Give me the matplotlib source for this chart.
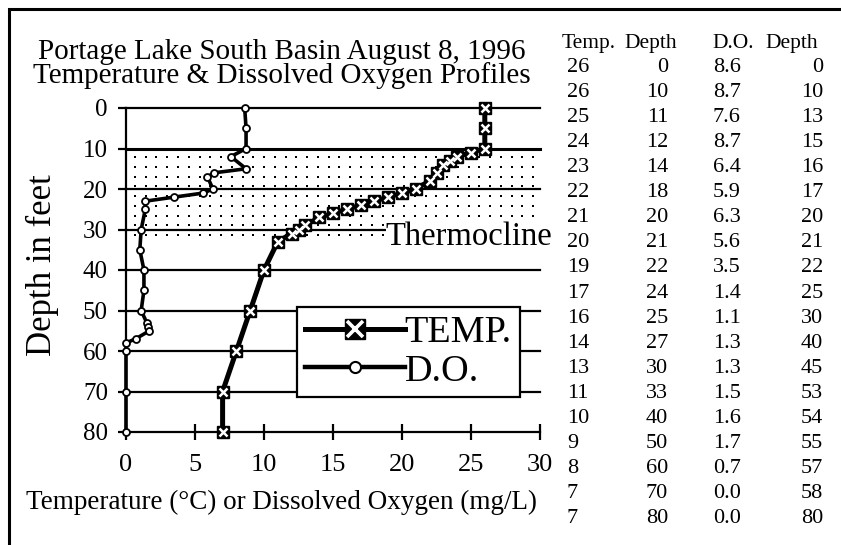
import numpy as np
import matplotlib
matplotlib.use("Agg")
import matplotlib.pyplot as plt
from matplotlib.lines import Line2D

plt.rcParams['font.family'] = ['Liberation Serif', 'DejaVu Serif']

# ---- data: plotted profiles ----
temp_depth = [0, 5, 10, 11, 12, 13, 14, 16, 18, 20, 21, 22, 23, 24, 25, 26, 27, 29, 30, 31, 33, 40, 50, 60, 70, 80]
temp_vals = [26, 26, 26, 25, 24, 23.5, 23, 22.5, 22, 21, 20, 19, 18, 17, 16, 15, 14, 13, 12.5, 12, 11, 10, 9, 8, 7, 7]
do_depth = [0, 5, 10, 12, 15, 16, 17, 20, 21, 22, 23, 25, 30, 35, 40, 45, 50, 53, 54, 55, 57, 58, 60, 70, 80]
do_vals = [8.6, 8.7, 8.7, 7.6, 8.7, 6.4, 5.9, 6.3, 5.6, 3.5, 1.4, 1.4, 1.1, 1.0, 1.3, 1.3, 1.1, 1.5, 1.6, 1.7, 0.7, 0.0, 0.0, 0.0, 0.0]

# ---- data: table on the right ----
tab_temp = [26, 26, 25, 24, 23, 22, 21, 20, 19, 17, 16, 14, 13, 11, 10, 9, 8, 7, 7]
tab_temp_depth = [0, 10, 11, 12, 14, 18, 20, 21, 22, 24, 25, 27, 30, 33, 40, 50, 60, 70, 80]
tab_do = [8.6, 8.7, 7.6, 8.7, 6.4, 5.9, 6.3, 5.6, 3.5, 1.4, 1.1, 1.3, 1.3, 1.5, 1.6, 1.7, 0.7, 0.0, 0.0]
tab_do_depth = [0, 10, 13, 15, 16, 17, 20, 21, 22, 25, 30, 40, 45, 53, 54, 55, 57, 58, 80]
tab_headers = ["Temp.", "Depth", "D.O.", "Depth"]

y_ticks = [0, 10, 20, 30, 40, 50, 60, 70, 80]
x_ticks = [0, 5, 10, 15, 20, 25, 30]
thermo_top, thermo_bot = 10, 32

W, H = 841, 545
fig = plt.figure(figsize=(W / 100, H / 100), dpi=100)

def fx(x):
    return x / W

def fy(y):
    return 1 - y / H

# outer frame (top and left edges visible)
fig.add_artist(plt.Rectangle((fx(9), -0.1), 1.2, fy(9) + 0.1, transform=fig.transFigure,
                             fill=False, edgecolor='black', lw=2.2, clip_on=False))

ax = fig.add_axes([fx(126), fy(432), 414 / W, 324 / H])
ax.set_xlim(0, 30)
ax.set_ylim(80, 0)
ax.patch.set_alpha(0)

for s in ['top', 'right']:
    ax.spines[s].set_visible(False)
ax.spines['left'].set_linewidth(1.6)
ax.spines['bottom'].set_linewidth(1.6)

# thermocline dotted band
xs = np.arange(0.65, 30, 0.78)
ys = np.arange(12.1, thermo_bot, 2.41)
gx, gy = np.meshgrid(xs, ys)
ax.scatter(gx.ravel(), gy.ravel(), s=2.2, marker='s', color='black', linewidths=0, zorder=1)

# horizontal grid lines
for d in y_ticks[:-1]:
    ax.axhline(d, color='black', lw=2.2 if d == 10 else 1.6, zorder=2, clip_on=False)

ax.set_yticks(y_ticks)
ax.set_yticklabels([str(v) for v in y_ticks])
ax.set_xticks(x_ticks)
ax.set_xticklabels([str(v) for v in x_ticks])
ax.tick_params(axis='y', direction='out', length=6, width=1.6, pad=7, labelsize=18)
ax.tick_params(axis='x', direction='inout', length=11, width=1.6, pad=10, labelsize=19)

# Thermocline label
ax.text(30.9, 33.8, 'Thermocline', ha='right', va='baseline', fontsize=23.5,
        bbox=dict(facecolor='white', edgecolor='none', pad=0), zorder=3, clip_on=False)

# data series
ax.plot(do_vals, do_depth, color='black', lw=2.6, marker='o', ms=5, mfc='white',
        mec='black', mew=1.3, zorder=4, clip_on=False)
ax.plot(temp_vals, temp_depth, color='black', lw=3.6, marker='s', ms=8, mfc='black',
        mec='black', zorder=5, clip_on=False)
ax.plot(temp_vals, temp_depth, ls='none', marker='x', ms=6, mec='white', mew=1.8,
        zorder=6, clip_on=False)

# legend
h_temp = (Line2D([], [], color='black', lw=3.6, marker='s', ms=15, mfc='black', mec='black'),
          Line2D([], [], ls='none', marker='x', ms=11, mec='white', mew=2.6))
h_do = Line2D([], [], color='black', lw=3.2, marker='o', ms=8, mfc='white', mec='black', mew=1.5)
leg = ax.legend([h_temp, h_do], ['TEMP.', 'D.O.'], loc='upper left',
                bbox_to_anchor=(0.413, 0.386), borderaxespad=0, fontsize=27.5,
                handlelength=2.6, handletextpad=0.0, labelspacing=0.1, borderpad=0.22,
                frameon=True, fancybox=False, framealpha=1, edgecolor='black')
leg.get_frame().set_linewidth(1.6)
leg.set_zorder(10)

# axis labels / title
fig.text(fx(42), fy(265), 'Depth in feet', rotation=90, ha='center', va='center', fontsize=25)
fig.text(fx(281), fy(502), 'Temperature (°C) or Dissolved Oxygen (mg/L)', ha='center',
         va='center', fontsize=19.5)
fig.text(fx(282), fy(83), 'Portage Lake South Basin August 8, 1996\n'
         'Temperature & Dissolved Oxygen Profiles', ha='center', va='baseline',
         multialignment='center', fontsize=21, linespacing=0.88)

# table
tfs = 16
hdr_x = [562, 624, 712, 765]
for hx, h in zip(hdr_x, tab_headers):
    fig.text(fx(hx), fy(48), h, ha='left', va='baseline', fontsize=15.5)
for i in range(len(tab_temp)):
    yb = fy(72 + 25.06 * i)
    fig.text(fx(567), yb, f"{tab_temp[i]}", ha='left', va='baseline', fontsize=tfs)
    fig.text(fx(668), yb, f"{tab_temp_depth[i]}", ha='right', va='baseline', fontsize=tfs)
    fig.text(fx(713), yb, f"{tab_do[i]:.1f}", ha='left', va='baseline', fontsize=tfs)
    fig.text(fx(823), yb, f"{tab_do_depth[i]}", ha='right', va='baseline', fontsize=tfs)

fig.savefig('out.png', dpi=100)
